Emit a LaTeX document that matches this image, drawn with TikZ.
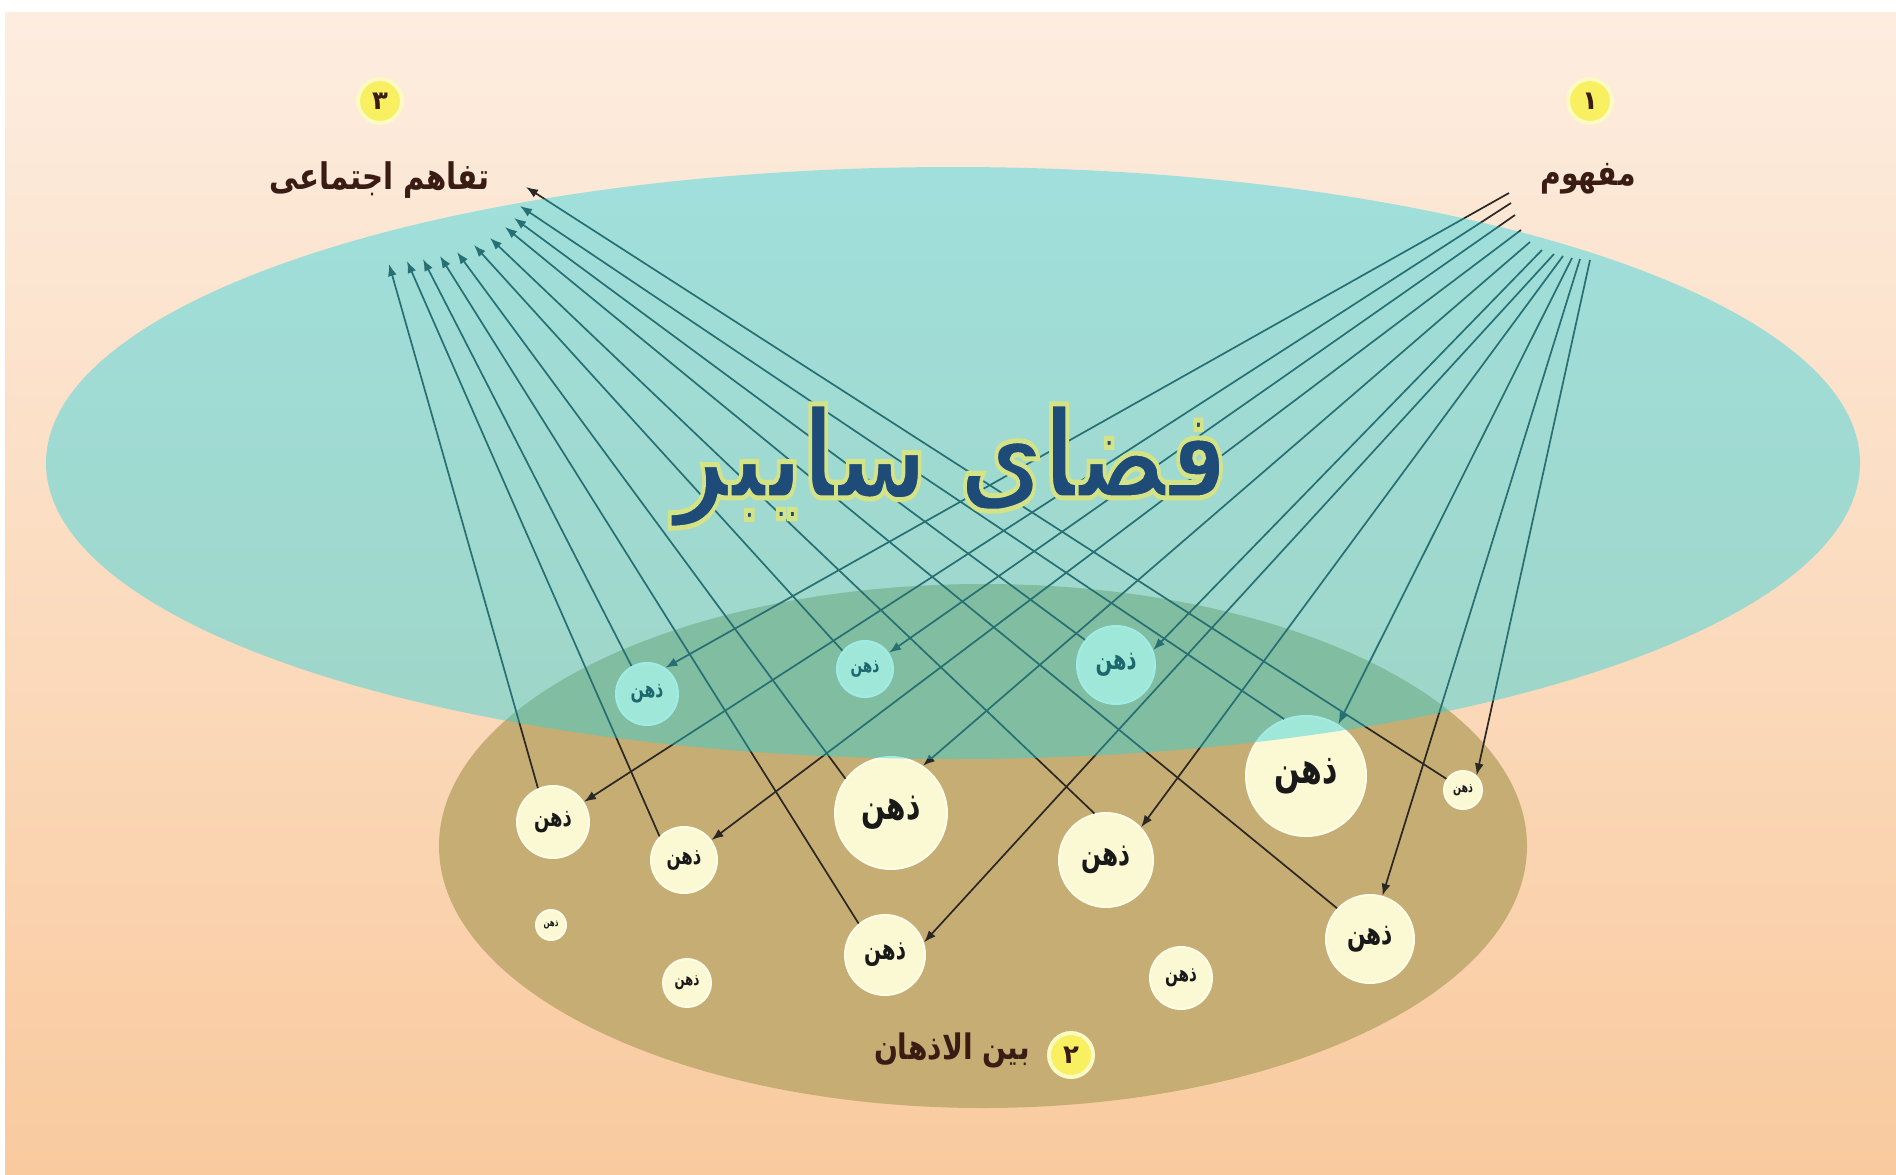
\documentclass[tikz,border=0pt]{standalone}
\usepackage{fontspec}
\usepackage{graphicx}
\usetikzlibrary{arrows.meta}
\TeXXeTstate=1
\newfontfamily\arabicfont[Script=Arabic]{DejaVu Sans}
\definecolor{bgtop}{HTML}{FDEDE0}
\definecolor{bgbot}{HTML}{F9CA9E}
\definecolor{ellTan}{HTML}{C6AD73}
\definecolor{cyanOv}{RGB}{33,212,226}
\definecolor{cream}{HTML}{FBF8D4}
\definecolor{creamEdge}{HTML}{FFFCE8}
\definecolor{lineC}{HTML}{2B2824}
\definecolor{labC}{HTML}{3A1C14}
\definecolor{titleC}{HTML}{1F4B78}
\definecolor{numY}{HTML}{F8F060}
\definecolor{numEdge}{HTML}{FCFAC4}
\newcommand{\zhn}[1]{\resizebox{#1pt}{!}{\scalebox{1}[1.45]{\beginR ذهن\endR}}}
\newcommand{\glowon}{\special{pdf:literal direct q 2 Tr 4 w 0.83 0.89 0.52 RG}}
\newcommand{\glowoff}{\special{pdf:literal direct Q}}
\begin{document}
\begin{tikzpicture}[x=1pt,y=-1pt,
  mind/.style={circle, fill=cream, draw=creamEdge, line width=2pt, inner sep=0pt,
    minimum size=#1, text=black!90, font=\arabicfont\bfseries\fontsize{20}{24}\selectfont},
  conn/.style={draw=lineC, line width=1.7pt, -{Latex[length=12pt,width=9pt]}},
  numc/.style={circle, fill=numY, draw=numEdge, line width=4pt, inner sep=0pt,
    minimum size=44, text=labC, font=\arabicfont\bfseries\fontsize{26}{30}\selectfont},
  lab/.style={inner sep=0pt, text=labC, font=\arabicfont\bfseries\fontsize{30}{36}\selectfont}]
\useasboundingbox (0,0) rectangle (1896,1175);
\fill[white] (0,0) rectangle (1896,1175);
\shade[top color=bgtop, bottom color=bgbot] (5,12) rectangle (1896,1175);
% tan ellipse (inter-mind space)
\fill[ellTan] (983,846) ellipse [x radius=544, y radius=262];
% minds
\node[mind=62]  (n1)  at (647,694) {\zhn{33}};
\node[mind=56]  (n2)  at (865,669) {\zhn{29}};
\node[mind=78]  (n3)  at (1116,665) {\zhn{41}};
\node[mind=120] (n4)  at (1306,776) {\zhn{63}};
\node[mind=38]  (n5)  at (1463,790) {\zhn{20}};
\node[mind=72]  (n6)  at (553,822) {\zhn{38}};
\node[mind=66]  (n7)  at (684,860) {\zhn{35}};
\node[mind=112] (n8)  at (891,813) {\zhn{59}};
\node[mind=94]  (n9)  at (1106,860) {\zhn{49}};
\node[mind=30]  (n10) at (551,925) {\zhn{15}};
\node[mind=48]  (n11) at (687,983) {\zhn{25}};
\node[mind=80]  (n12) at (885,955) {\zhn{42}};
\node[mind=62]  (n13) at (1181,978) {\zhn{32}};
\node[mind=88]  (n14) at (1370,939) {\zhn{46}};
% sources (concept) and targets (social understanding)
\coordinate (s1) at (1509,193);
\coordinate (s2) at (1511,203);
\coordinate (s3) at (1515,215);
\coordinate (s4) at (1521,230);
\coordinate (s5) at (1530,242);
\coordinate (s6) at (1542,250);
\coordinate (s7) at (1554,254);
\coordinate (s8) at (1563,256);
\coordinate (s9) at (1572,258);
\coordinate (s10) at (1580,259);
\coordinate (s11) at (1590,260);
\coordinate (t1) at (389,264);
\coordinate (t2) at (407,261);
\coordinate (t3) at (423,259);
\coordinate (t4) at (440,256);
\coordinate (t5) at (457,252);
\coordinate (t6) at (474,245);
\coordinate (t7) at (490,238);
\coordinate (t8) at (505,227);
\coordinate (t9) at (514,218);
\coordinate (t10) at (520,206);
\coordinate (t11) at (526,187);
% incoming
\draw[conn] (s1) -- (n1.55);
\draw[conn] (s2) -- (n6.33);
\draw[conn] (s3) -- (n2.34);
\draw[conn] (s4) -- (n7.36);
\draw[conn] (s5) -- (n8.56);
\draw[conn] (s6) -- (n3.22);
\draw[conn] (s7) -- (n12.18);
\draw[conn] (s8) -- (n9.43);
\draw[conn] (s9) -- (n4.58);
\draw[conn] (s10) -- (n14.74);
\draw[conn] (s11) -- (n5.47);
% outgoing
\draw[conn] (n6.114) -- (t1);
\draw[conn] (n7.136) -- (t2);
\draw[conn] (n1.119) -- (t3);
\draw[conn] (n12.130) -- (t4);
\draw[conn] (n8.143) -- (t5);
\draw[conn] (n2.141) -- (t6);
\draw[conn] (n9.104) -- (t7);
\draw[conn] (n14.137) -- (t8);
\draw[conn] (n3.141) -- (t9);
\draw[conn] (n4.111) -- (t10);
\draw[conn] (n5.146) -- (t11);
% cyber space overlay
\fill[cyanOv, fill opacity=0.42] (953,463) ellipse [x radius=907, y radius=296];
% labels
\node[numc] (c3) at (380,101) {\beginR ۳\endR};
\node[lab] (l3) at (380,180) {\resizebox{220pt}{!}{\scalebox{1}[1.25]{\beginR تفاهم اجتماعی\endR}}};
\node[numc] (c1) at (1590,101) {\beginR ۱\endR};
\node[lab] (l1) at (1588,179) {\resizebox{95pt}{!}{\scalebox{1}[1.25]{\beginR مفهوم\endR}}};
\node[numc] (c2) at (1071,1055) {\beginR ۲\endR};
\node[lab] (l2) at (952,1050) {\resizebox{156pt}{!}{\scalebox{1}[1.25]{\beginR بین الاذهان\endR}}};
\node[inner sep=0pt, text=titleC, font=\arabicfont\bfseries\fontsize{100}{110}\selectfont] (title) at (951,466)
  {\resizebox{555pt}{!}{\scalebox{1}[1.35]{\glowon\beginR فضای سایبر\endR\glowoff}}};
\end{tikzpicture}
\end{document}
